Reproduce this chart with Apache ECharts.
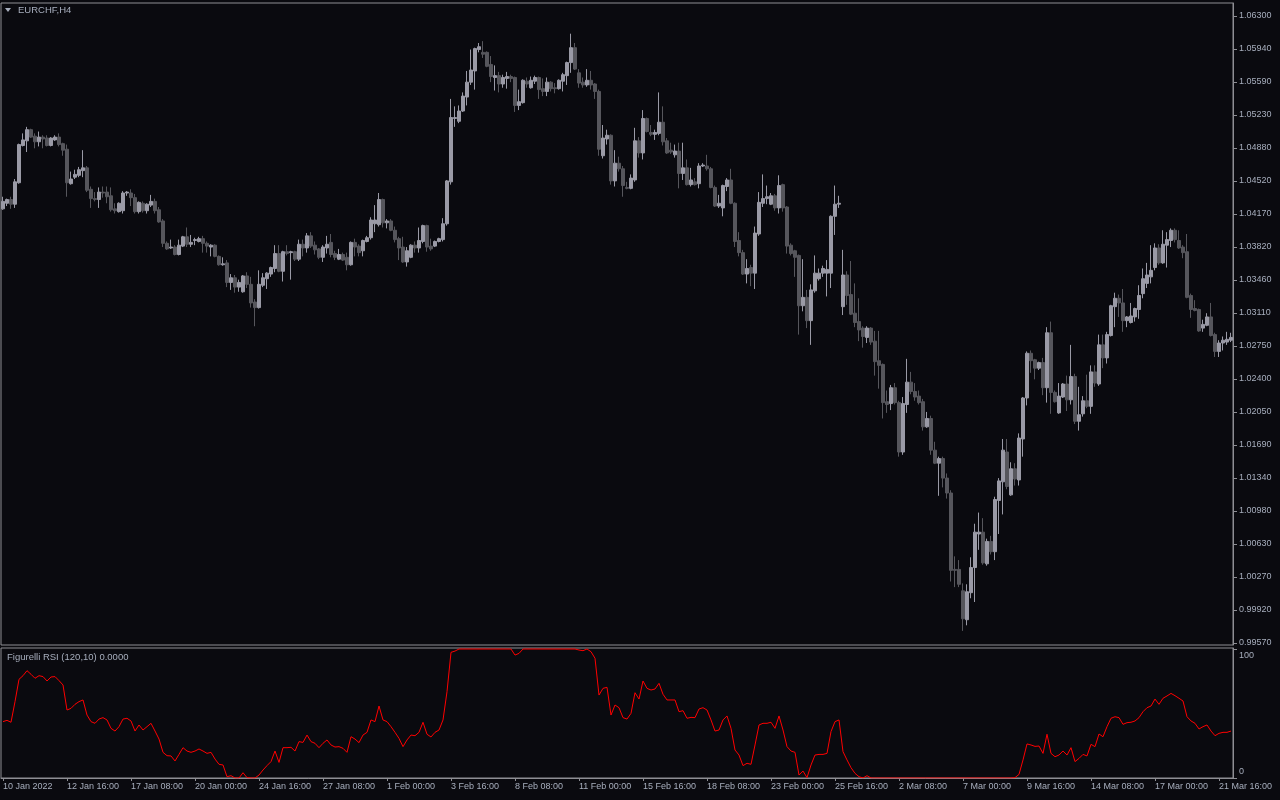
<!DOCTYPE html>
<html><head><meta charset="utf-8">
<script src="https://cdn.jsdelivr.net/npm/echarts@6/dist/echarts.min.js"></script>
<style>html,body{margin:0;padding:0;background:#0a0a0f;}#c{width:1280px;height:800px;}</style>
</head><body><div id="c"></div>
<script>
const xTickLabels = ['10 Jan 2022','12 Jan 16:00','17 Jan 08:00','20 Jan 00:00','24 Jan 16:00','27 Jan 08:00','1 Feb 00:00','3 Feb 16:00','8 Feb 08:00','11 Feb 00:00','15 Feb 16:00','18 Feb 08:00','23 Feb 00:00','25 Feb 16:00','2 Mar 08:00','7 Mar 00:00','9 Mar 16:00','14 Mar 08:00','17 Mar 00:00','21 Mar 16:00'];
const yTickLabels = ['1.06300','1.05940','1.05590','1.05230','1.04880','1.04520','1.04170','1.03820','1.03460','1.03110','1.02750','1.02400','1.02050','1.01690','1.01340','1.00980','1.00630','1.00270','0.99920','0.99570'];
const rsiTickLabels = ['0','100'];

const open = [
1.0423,1.0429,1.0433,1.0428,1.0451,1.0491,1.0496,1.0508,1.0501,1.0495,
1.0500,1.0499,1.0491,1.0497,1.0500,1.0493,1.0487,1.0450,1.0457,1.0459,
1.0464,1.0467,1.0444,1.0434,1.0433,1.0441,1.0441,1.0437,1.0423,1.0420,
1.0421,1.0440,1.0440,1.0435,1.0420,1.0429,1.0421,1.0427,1.0431,1.0422,
1.0410,1.0386,1.0381,1.0382,1.0374,1.0383,1.0393,1.0385,1.0389,1.0388,
1.0391,1.0386,1.0382,1.0384,1.0372,1.0363,1.0365,1.0344,1.0349,1.0339,
1.0334,1.0351,1.0342,1.0323,1.0317,1.0341,1.0348,1.0353,1.0359,1.0375,
1.0356,1.0377,1.0376,1.0377,1.0369,1.0385,1.0381,1.0394,1.0384,1.0380,
1.0371,1.0381,1.0387,1.0375,1.0369,1.0374,1.0371,1.0363,1.0387,1.0383,
1.0378,1.0388,1.0392,1.0407,1.0406,1.0433,1.0408,1.0410,1.0400,1.0391,
1.0382,1.0366,1.0371,1.0384,1.0381,1.0388,1.0405,1.0383,1.0383,1.0388,
1.0390,1.0407,1.0452,1.0520,1.0517,1.0528,1.0543,1.0559,1.0571,1.0594,
1.0591,1.0591,1.0578,1.0564,1.0566,1.0557,1.0563,1.0565,1.0564,1.0534,
1.0537,1.0560,1.0553,1.0560,1.0564,1.0552,1.0549,1.0559,1.0553,1.0552,
1.0560,1.0566,1.0580,1.0596,1.0569,1.0559,1.0556,1.0561,1.0557,1.0549,
1.0480,1.0498,1.0502,1.0453,1.0472,1.0466,1.0446,1.0445,1.0454,1.0496,
1.0483,1.0520,1.0505,1.0503,1.0504,1.0516,1.0496,1.0486,1.0481,1.0485,
1.0461,1.0467,1.0449,1.0452,1.0450,1.0469,1.0469,1.0466,1.0446,1.0426,
1.0424,1.0447,1.0454,1.0429,1.0389,1.0376,1.0353,1.0360,1.0354,1.0396,
1.0429,1.0434,1.0428,1.0437,1.0424,1.0449,1.0425,1.0384,1.0378,1.0373,
1.0319,1.0328,1.0303,1.0335,1.0348,1.0354,1.0354,1.0354,1.0415,1.0428,
1.0318,1.0352,1.0331,1.0311,1.0302,1.0295,1.0285,1.0295,1.0281,1.0260,
1.0256,1.0216,1.0214,1.0231,1.0215,1.0162,1.0213,1.0237,1.0227,1.0222,
1.0216,1.0189,1.0198,1.0164,1.0150,1.0155,1.0134,1.0118,1.0036,1.0036,
1.0013,0.9982,1.0011,1.0038,1.0074,1.0076,1.0042,1.0066,1.0055,1.0110,
1.0130,1.0162,1.0116,1.0144,1.0132,1.0176,1.0220,1.0268,1.0261,1.0252,
1.0258,1.0231,1.0290,1.0226,1.0204,1.0221,1.0235,1.0218,1.0243,1.0195,
1.0203,1.0217,1.0211,1.0248,1.0235,1.0277,1.0263,1.0287,1.0318,1.0327,
1.0322,1.0303,1.0301,1.0307,1.0315,1.0332,1.0343,1.0350,1.0360,1.0381,
1.0365,1.0384,1.0389,1.0400,1.0389,1.0382,1.0377,1.0330,1.0316,1.0315,
1.0295,1.0298,1.0307,1.0288,1.0270,1.0279,1.0280,1.0282];
const close = [
1.0431,1.0433,1.0428,1.0452,1.0492,1.0497,1.0508,1.0500,1.0495,1.0500,
1.0498,1.0491,1.0499,1.0500,1.0492,1.0486,1.0451,1.0455,1.0460,1.0465,
1.0467,1.0443,1.0434,1.0433,1.0441,1.0440,1.0436,1.0422,1.0421,1.0429,
1.0440,1.0441,1.0435,1.0420,1.0430,1.0421,1.0428,1.0431,1.0421,1.0409,
1.0386,1.0380,1.0382,1.0374,1.0384,1.0393,1.0385,1.0387,1.0390,1.0391,
1.0386,1.0383,1.0384,1.0372,1.0363,1.0364,1.0344,1.0349,1.0339,1.0344,
1.0351,1.0342,1.0322,1.0317,1.0342,1.0349,1.0354,1.0360,1.0375,1.0356,
1.0377,1.0375,1.0377,1.0369,1.0385,1.0381,1.0394,1.0383,1.0379,1.0371,
1.0382,1.0385,1.0374,1.0371,1.0374,1.0368,1.0363,1.0387,1.0382,1.0376,
1.0389,1.0392,1.0411,1.0411,1.0433,1.0408,1.0410,1.0400,1.0390,1.0381,
1.0366,1.0378,1.0384,1.0381,1.0389,1.0405,1.0382,1.0380,1.0388,1.0391,
1.0407,1.0453,1.0521,1.0521,1.0528,1.0544,1.0559,1.0572,1.0595,1.0597,
1.0589,1.0576,1.0565,1.0566,1.0557,1.0564,1.0565,1.0563,1.0534,1.0538,
1.0561,1.0557,1.0561,1.0564,1.0551,1.0549,1.0559,1.0552,1.0552,1.0561,
1.0567,1.0580,1.0596,1.0573,1.0558,1.0556,1.0561,1.0556,1.0549,1.0487,
1.0499,1.0502,1.0453,1.0472,1.0466,1.0448,1.0445,1.0456,1.0496,1.0483,
1.0520,1.0506,1.0503,1.0505,1.0516,1.0495,1.0483,1.0484,1.0485,1.0461,
1.0467,1.0449,1.0454,1.0449,1.0469,1.0470,1.0466,1.0446,1.0426,1.0429,
1.0448,1.0454,1.0429,1.0388,1.0376,1.0353,1.0359,1.0354,1.0397,1.0430,
1.0434,1.0436,1.0437,1.0424,1.0448,1.0424,1.0383,1.0375,1.0371,1.0319,
1.0328,1.0303,1.0336,1.0354,1.0354,1.0359,1.0358,1.0415,1.0428,1.0429,
1.0352,1.0330,1.0310,1.0301,1.0293,1.0286,1.0295,1.0280,1.0259,1.0255,
1.0215,1.0213,1.0231,1.0215,1.0162,1.0214,1.0237,1.0227,1.0221,1.0215,
1.0189,1.0198,1.0164,1.0150,1.0155,1.0134,1.0118,1.0035,1.0035,1.0020,
0.9983,1.0012,1.0038,1.0076,1.0076,1.0043,1.0066,1.0055,1.0111,1.0131,
1.0164,1.0125,1.0144,1.0133,1.0177,1.0220,1.0268,1.0260,1.0252,1.0258,
1.0231,1.0290,1.0226,1.0216,1.0222,1.0235,1.0218,1.0243,1.0195,1.0202,
1.0217,1.0211,1.0248,1.0236,1.0277,1.0263,1.0288,1.0319,1.0327,1.0322,
1.0303,1.0307,1.0308,1.0316,1.0330,1.0348,1.0352,1.0357,1.0381,1.0365,
1.0385,1.0390,1.0400,1.0390,1.0381,1.0376,1.0328,1.0315,1.0314,1.0292,
1.0299,1.0307,1.0287,1.0270,1.0279,1.0282,1.0283,1.0285];
const low = [
1.0422,1.0426,1.0423,1.0424,1.0450,1.0490,1.0484,1.0499,1.0488,1.0490,
1.0488,1.0490,1.0490,1.0496,1.0490,1.0480,1.0436,1.0449,1.0455,1.0457,
1.0457,1.0441,1.0424,1.0431,1.0424,1.0435,1.0429,1.0420,1.0418,1.0419,
1.0418,1.0437,1.0426,1.0418,1.0418,1.0419,1.0418,1.0425,1.0418,1.0408,
1.0382,1.0379,1.0380,1.0373,1.0373,1.0382,1.0382,1.0382,1.0384,1.0387,
1.0376,1.0376,1.0372,1.0371,1.0362,1.0362,1.0339,1.0336,1.0333,1.0334,
1.0333,1.0338,1.0317,1.0297,1.0316,1.0339,1.0337,1.0350,1.0355,1.0355,
1.0345,1.0373,1.0347,1.0367,1.0367,1.0372,1.0376,1.0381,1.0374,1.0369,
1.0366,1.0375,1.0371,1.0368,1.0368,1.0367,1.0357,1.0362,1.0372,1.0372,
1.0372,1.0387,1.0390,1.0398,1.0404,1.0403,1.0402,1.0399,1.0387,1.0368,
1.0365,1.0361,1.0370,1.0376,1.0376,1.0386,1.0377,1.0378,1.0382,1.0387,
1.0388,1.0405,1.0449,1.0511,1.0515,1.0527,1.0534,1.0556,1.0551,1.0591,
1.0585,1.0575,1.0559,1.0550,1.0548,1.0553,1.0552,1.0559,1.0527,1.0529,
1.0536,1.0553,1.0552,1.0557,1.0541,1.0544,1.0544,1.0549,1.0547,1.0551,
1.0549,1.0556,1.0569,1.0572,1.0553,1.0553,1.0554,1.0551,1.0541,1.0480,
1.0477,1.0492,1.0449,1.0447,1.0463,1.0436,1.0444,1.0444,1.0452,1.0478,
1.0476,1.0505,1.0501,1.0497,1.0502,1.0491,1.0482,1.0482,1.0478,1.0445,
1.0454,1.0448,1.0447,1.0448,1.0445,1.0468,1.0464,1.0445,1.0425,1.0424,
1.0415,1.0442,1.0428,1.0382,1.0372,1.0352,1.0343,1.0340,1.0337,1.0394,
1.0425,1.0428,1.0427,1.0421,1.0418,1.0420,1.0375,1.0373,1.0350,1.0288,
1.0313,1.0295,1.0277,1.0333,1.0346,1.0350,1.0329,1.0338,1.0395,1.0424,
1.0309,1.0320,1.0309,1.0296,1.0281,1.0274,1.0279,1.0277,1.0244,1.0230,
1.0198,1.0204,1.0207,1.0213,1.0157,1.0159,1.0204,1.0224,1.0217,1.0213,
1.0185,1.0188,1.0159,1.0149,1.0115,1.0124,1.0112,1.0023,1.0017,1.0017,
0.9970,0.9976,1.0005,1.0001,1.0057,1.0041,1.0040,1.0052,1.0046,1.0074,
1.0095,1.0122,1.0115,1.0126,1.0126,1.0157,1.0212,1.0247,1.0240,1.0250,
1.0223,1.0215,1.0203,1.0215,1.0203,1.0220,1.0206,1.0213,1.0192,1.0185,
1.0200,1.0209,1.0203,1.0232,1.0233,1.0252,1.0257,1.0286,1.0296,1.0307,
1.0291,1.0296,1.0300,1.0302,1.0305,1.0327,1.0338,1.0343,1.0357,1.0363,
1.0364,1.0360,1.0382,1.0387,1.0380,1.0370,1.0327,1.0306,1.0313,1.0291,
1.0291,1.0297,1.0286,1.0264,1.0264,1.0271,1.0277,1.0280];
const high = [
1.0436,1.0434,1.0436,1.0455,1.0493,1.0504,1.0511,1.0509,1.0504,1.0506,
1.0502,1.0502,1.0500,1.0502,1.0504,1.0494,1.0492,1.0463,1.0465,1.0468,
1.0486,1.0469,1.0447,1.0441,1.0446,1.0447,1.0447,1.0446,1.0429,1.0430,
1.0442,1.0442,1.0444,1.0439,1.0431,1.0431,1.0429,1.0438,1.0434,1.0425,
1.0412,1.0388,1.0390,1.0384,1.0390,1.0394,1.0403,1.0395,1.0392,1.0393,
1.0394,1.0388,1.0385,1.0385,1.0373,1.0371,1.0368,1.0353,1.0352,1.0347,
1.0352,1.0355,1.0350,1.0326,1.0357,1.0354,1.0355,1.0361,1.0384,1.0384,
1.0378,1.0384,1.0378,1.0378,1.0390,1.0390,1.0397,1.0398,1.0388,1.0381,
1.0384,1.0394,1.0396,1.0378,1.0380,1.0376,1.0376,1.0388,1.0391,1.0385,
1.0390,1.0394,1.0414,1.0427,1.0440,1.0434,1.0412,1.0412,1.0404,1.0393,
1.0393,1.0382,1.0385,1.0388,1.0403,1.0406,1.0406,1.0391,1.0389,1.0392,
1.0413,1.0454,1.0541,1.0533,1.0534,1.0548,1.0571,1.0594,1.0596,1.0601,
1.0603,1.0592,1.0587,1.0577,1.0570,1.0567,1.0570,1.0567,1.0565,1.0551,
1.0562,1.0564,1.0565,1.0566,1.0565,1.0563,1.0564,1.0560,1.0558,1.0562,
1.0569,1.0581,1.0611,1.0601,1.0573,1.0564,1.0573,1.0571,1.0558,1.0551,
1.0513,1.0508,1.0503,1.0486,1.0479,1.0469,1.0452,1.0460,1.0510,1.0500,
1.0529,1.0521,1.0513,1.0508,1.0548,1.0533,1.0499,1.0494,1.0492,1.0494,
1.0494,1.0476,1.0467,1.0456,1.0472,1.0472,1.0481,1.0468,1.0448,1.0438,
1.0449,1.0456,1.0466,1.0430,1.0398,1.0379,1.0369,1.0363,1.0404,1.0441,
1.0460,1.0448,1.0440,1.0439,1.0459,1.0450,1.0426,1.0386,1.0379,1.0374,
1.0369,1.0336,1.0342,1.0373,1.0359,1.0362,1.0368,1.0416,1.0448,1.0437,
1.0379,1.0356,1.0367,1.0343,1.0327,1.0297,1.0297,1.0296,1.0292,1.0292,
1.0257,1.0228,1.0234,1.0236,1.0217,1.0221,1.0262,1.0248,1.0236,1.0228,
1.0219,1.0205,1.0201,1.0173,1.0157,1.0157,1.0139,1.0121,1.0050,1.0046,
1.0021,1.0020,1.0049,1.0085,1.0097,1.0091,1.0069,1.0072,1.0114,1.0134,
1.0176,1.0176,1.0151,1.0150,1.0182,1.0221,1.0270,1.0271,1.0262,1.0259,
1.0263,1.0296,1.0302,1.0228,1.0236,1.0236,1.0244,1.0277,1.0246,1.0232,
1.0222,1.0245,1.0255,1.0255,1.0288,1.0288,1.0291,1.0320,1.0333,1.0331,
1.0337,1.0308,1.0322,1.0317,1.0341,1.0359,1.0365,1.0384,1.0386,1.0385,
1.0400,1.0398,1.0402,1.0402,1.0400,1.0384,1.0396,1.0332,1.0325,1.0316,
1.0304,1.0311,1.0322,1.0290,1.0282,1.0286,1.0291,1.0290];
const rsi = [
43.7,44.7,43.2,59.2,76.5,79.3,83.2,80.4,77.3,79.3,
78.6,75.2,78.3,78.6,75.5,72.1,52.7,54.0,57.1,59.2,
60.5,48.8,43.7,42.4,45.7,46.8,45.0,38.5,36.4,39.8,
45.7,46.3,44.2,36.4,41.1,37.2,39.8,42.4,36.4,30.2,
19.9,17.3,17.1,13.2,18.3,23.5,20.9,19.9,20.9,22.5,
20.9,19.1,19.9,14.7,10.6,10.1,1.0,1.8,0,0,
4.1,0.3,0,0,2.3,6.2,9.6,12.7,20.9,12.1,
23.5,23.5,23.8,20.9,28.2,27.6,33.3,28.2,26.9,23.5,
26.9,29.5,25.6,24.0,24.3,23.0,19.9,32.0,30.2,27.4,
33.3,35.4,45.0,43.7,55.8,45.0,43.7,39.8,35.4,30.7,
24.3,29.5,33.3,32.8,35.4,43.2,33.9,31.8,35.4,37.2,
45.0,66.9,97.4,98.4,100,100,100,100,100,100,
100,100,100,100,100,100,100,100,95.3,96.6,
100,100,100,100,100,100,100,100,100,100,
100,100,100,100,99.2,98.7,100,97.9,92.8,64.3,
69.5,70.3,48.8,56.6,54.5,46.8,45.7,50.1,66.1,61.2,
75.2,69.5,68.2,69.0,73.4,64.9,60.5,60.5,60.5,51.4,
52.2,46.3,47.0,46.8,53.5,54.5,52.7,45.0,36.4,37.2,
45.0,48.1,38.5,21.7,17.8,9.6,11.4,10.6,25.6,41.1,
42.4,42.4,43.2,38.5,48.1,37.2,24.3,20.9,19.9,2.3,
5.4,0.3,10.1,17.8,18.3,18.3,19.1,36.0,43.7,45.0,
20.4,14.0,8.0,3.6,1.0,0,1.8,0,0,0,
0,0,0,0,0,0,0,0,0,0,
0,0,0,0,0,0,0,0,0,0,
0,0,0,0,0,0,0,0,0,0,
0,0,0,0.3,2.8,14.0,26.4,25.6,24.5,24.8,
19.1,33.9,19.1,16.5,17.8,20.9,17.8,23.5,12.7,15.2,
18.3,17.1,26.1,24.3,34.1,32.0,39.8,46.3,47.5,46.8,
41.6,42.9,43.2,44.2,46.8,51.4,54.5,55.8,61.2,57.1,
61.8,63.6,65.6,63.8,61.8,59.7,47.5,44.2,42.4,38.0,
39.8,41.1,36.4,32.8,34.6,35.4,35.4,36.4];

const categories = open.map((_, i) => String(i));
const candles = open.map((o, i) => [o, close[i], low[i], high[i]]);

// price axis: first label at top tick, last label at bottom tick
const topTick = parseFloat(yTickLabels[0]);
const botTick = parseFloat(yTickLabels[yTickLabels.length - 1]);
const tickStep = (topTick - botTick) / (yTickLabels.length - 1);
const tickValues = yTickLabels.map((_, k) => topTick - k * tickStep);
const perPx = (topTick - botTick) / 627;
const yMax = topTick + 13 * perPx;
const yMin = botTick - 2 * perPx;

const FG = '#8e8e94';
const TXT = '#a7aebd';
const FONT = 'Liberation Sans';
const BULL = '#9a9aa6';
const BEAR = '#56565c';

const chart = echarts.init(document.getElementById('c'), null, {renderer: 'canvas'});
chart.setOption({
  animation: false,
  backgroundColor: '#0a0a0f',
  textStyle: {fontFamily: FONT},
  title: [
    {text: 'EURCHF,H4', left: 18, top: 5, padding: 0, textStyle: {color: TXT, fontSize: 9.5, fontWeight: 'normal', fontFamily: FONT}},
    {text: 'Figurelli RSI (120,10) 0.0000', left: 7, top: 652, padding: 0, textStyle: {color: TXT, fontSize: 9.5, fontWeight: 'normal', fontFamily: FONT}}
  ],
  graphic: [
    {type: 'polygon', shape: {points: [[5, 8], [11, 8], [8, 12]]}, style: {fill: TXT}}
  ],
  grid: [
    {left: 1, top: 3, width: 1232, height: 642, show: true, borderColor: FG, borderWidth: 1, backgroundColor: 'transparent'},
    {left: 1, top: 648, width: 1232, height: 130, show: true, borderColor: FG, borderWidth: 1, backgroundColor: 'transparent'}
  ],
  xAxis: [
    {type: 'category', gridIndex: 0, data: categories, boundaryGap: true,
     axisLine: {show: false}, axisTick: {show: false}, axisLabel: {show: false}, splitLine: {show: false}},
    {type: 'category', gridIndex: 1, data: categories, boundaryGap: true,
     axisLine: {show: true, lineStyle: {color: FG}},
     axisTick: {show: true, interval: 15, alignWithLabel: true, length: 3, lineStyle: {color: FG}},
     axisLabel: {show: true, interval: 15, align: 'left', margin: 4, color: TXT, fontSize: 9, fontFamily: FONT,
       formatter: (v, idx) => (idx % 16 === 0 ? (xTickLabels[idx / 16] || '') : '')},
     splitLine: {show: false}}
  ],
  yAxis: [
    {type: 'value', gridIndex: 0, position: 'right', min: yMin, max: yMax, scale: true,
     axisLine: {show: true, lineStyle: {color: FG}},
     axisTick: {show: true, length: 4, customValues: tickValues, lineStyle: {color: FG}},
     axisLabel: {show: true, customValues: tickValues, margin: 6, color: TXT, fontSize: 9, fontFamily: FONT,
       formatter: v => yTickLabels[Math.round((topTick - v) / tickStep)]},
     splitLine: {show: false}},
    {type: 'value', gridIndex: 1, position: 'right', min: 0, max: 100 + 100 / 129,
     axisLine: {show: true, lineStyle: {color: FG}},
     axisTick: {show: true, length: 4, customValues: [0, 100], lineStyle: {color: FG}},
     axisLabel: {show: true, customValues: [0, 100], margin: 6, color: TXT, fontSize: 9, fontFamily: FONT,
       formatter: v => (v >= 50 ? '{a|' + rsiTickLabels[1] + '}' : '{b|' + rsiTickLabels[0] + '}'),
       rich: {a: {color: TXT, fontSize: 9, fontFamily: FONT, padding: [14, 0, 0, 0]},
              b: {color: TXT, fontSize: 9, fontFamily: FONT, padding: [0, 0, 12, 0]}}},
     splitLine: {show: false}}
  ],
  series: [
    {type: 'candlestick', xAxisIndex: 0, yAxisIndex: 0, data: candles, barWidth: 3, barMinWidth: 3, barMaxWidth: 3,
     itemStyle: {color: BULL, color0: BEAR, borderColor: BULL, borderColor0: BEAR, borderWidth: 1}},
    {type: 'line', xAxisIndex: 1, yAxisIndex: 1, data: rsi, showSymbol: false, symbol: 'none',
     lineStyle: {color: '#ff0000', width: 1}}
  ]
});
</script></body></html>
